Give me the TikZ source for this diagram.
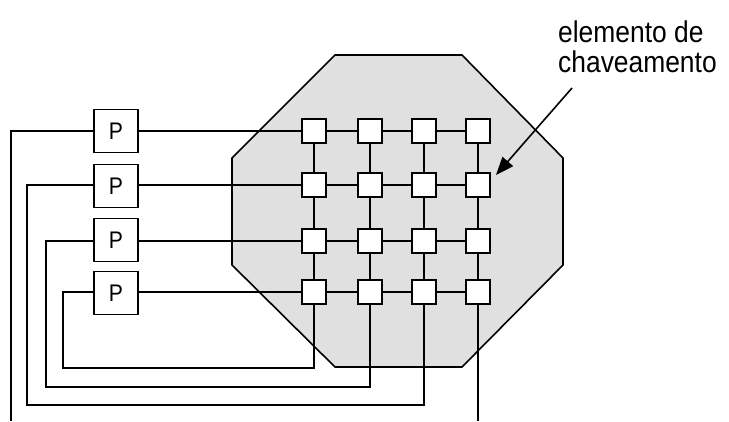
\documentclass[tikz,border=0pt]{standalone}
\usepackage{fontspec}
\setmainfont{Liberation Sans}
\newfontfamily\lblfont[FakeStretch=0.88]{Liberation Sans}
\usetikzlibrary{arrows.meta}
\definecolor{chipgray}{gray}{0.88}

\begin{document}
\begin{tikzpicture}[x=1pt,y=-1pt,
   sw/.style={draw,fill=white,line width=1.8pt,minimum size=24pt,inner sep=0pt},
   proc/.style={draw,fill=white,line width=1.8pt,minimum width=44pt,minimum height=43pt,
      inner sep=0pt,font=\lblfont\fontsize{24}{24}\selectfont},
   wire/.style={line width=1.3pt},
   lbl/.style={inner sep=0pt,font=\lblfont\fontsize{30}{30}\selectfont}]
   \useasboundingbox (0,0) rectangle (729,421);
   % chip
   \draw[fill=chipgray,line width=1.6pt] (335,55) -- (462,55) -- (563,158) -- (563,265)
      -- (462,367) -- (335,367) -- (232,265) -- (232,158) -- cycle;
   % switching elements
   \foreach \c/\x in {1/314,2/370,3/424,4/478}
      \foreach \r/\y in {1/131,2/185,3/241,4/292}
         \node[sw] (s\r\c) at (\x,\y) {};
   \foreach \r in {1,...,4} {
      \draw[wire] (s\r1) -- (s\r2) -- (s\r3) -- (s\r4);
      \draw[wire] (s1\r) -- (s2\r) -- (s3\r) -- (s4\r);
   }
   % processors
   \node[proc] (p1) at (116,131) {P};
   \node[proc] (p2) at (116,186) {P};
   \node[proc] (p3) at (116,240) {P};
   \node[proc] (p4) at (116,293) {P};
   \foreach \r in {1,...,4}
      \draw[wire] (p\r.east |- s\r1) -- (s\r1);
   % feedback lines
   \coordinate (e1) at (11,421);
   \coordinate (l2) at (27,405);
   \coordinate (l3) at (46,387);
   \coordinate (l4) at (63,368);
   \coordinate (e4) at (478,421);
   \draw[wire] (p1.west |- s11) -| (e1);
   \draw[wire] (p2.west |- s21) -| (l2) -| (s43.south);
   \draw[wire] (p3.west |- s31) -| (l3) -| (s42.south);
   \draw[wire] (p4.west |- s41) -| (l4) -| (s41.south);
   \draw[wire] (s44) -- (e4);
   % label
   \node[lbl,anchor=base west] (lab1) at (558,42) {elemento de};
   \node[lbl,anchor=base west] (lab2) at (558,72) {chaveamento};
   \coordinate (tail) at (572,88);
   \coordinate (tip) at (496,175);
   \draw[-{Triangle[length=18pt,width=14pt]},line width=1.6pt] (tail) -- (tip);
\end{tikzpicture}
\end{document}
